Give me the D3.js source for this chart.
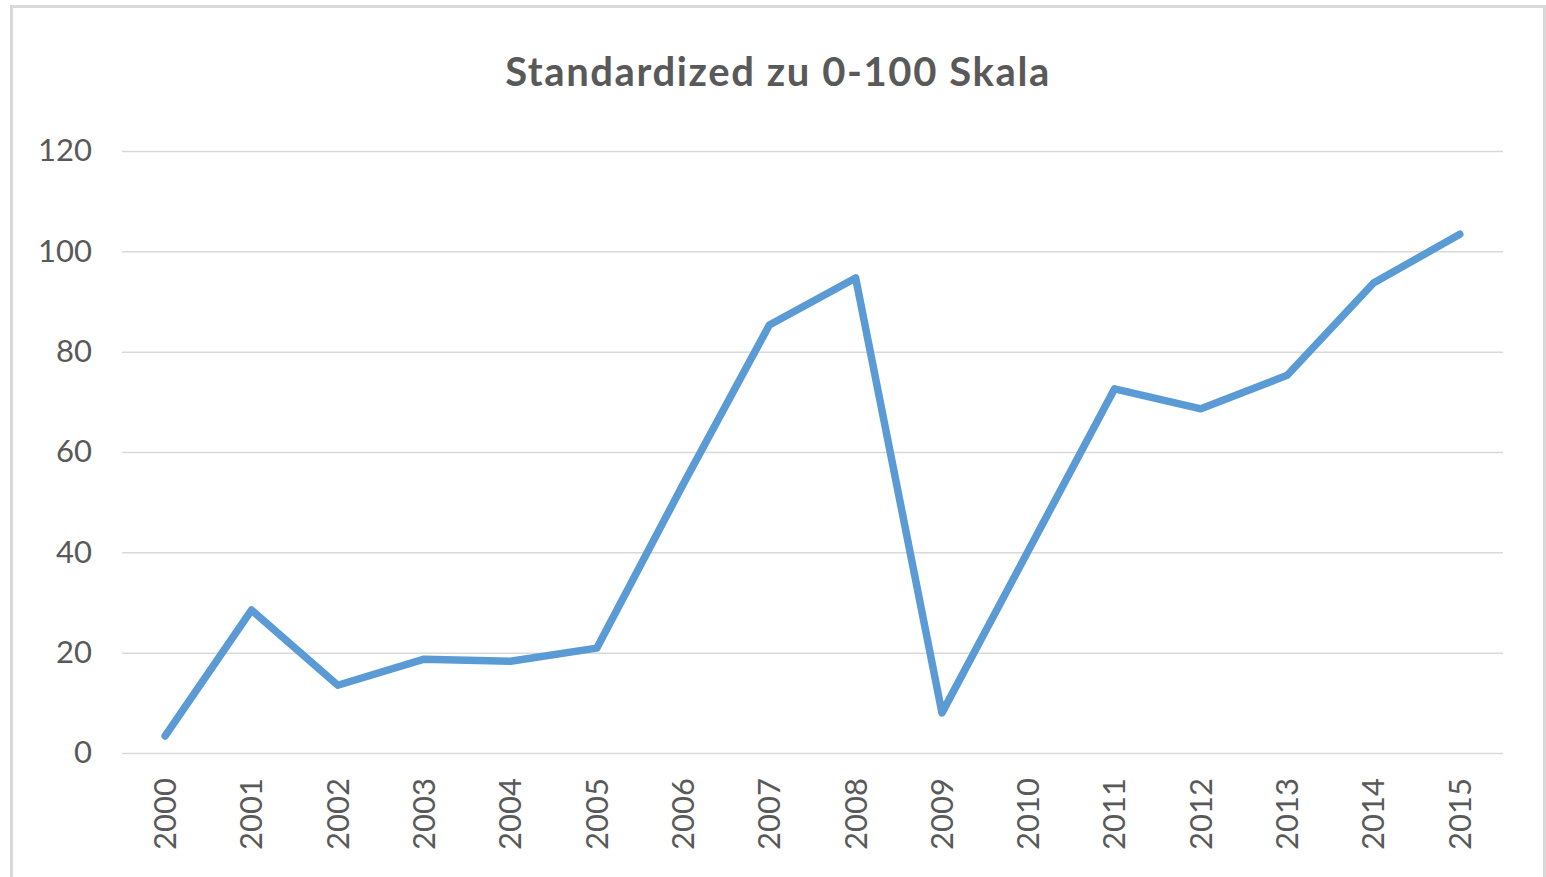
<!DOCTYPE html>
<html>
<head>
<meta charset="utf-8">
<script src="https://cdn.jsdelivr.net/npm/d3@7"></script>
<style>
  body { margin: 0; background: #fff; }
  svg { display: block; }
</style>
</head>
<body>
<div id="chart"></div>
<script>
// data
const years = ["2000","2001","2002","2003","2004","2005","2006","2007","2008","2009","2010","2011","2012","2013","2014","2015"];
const values = [3.4, 28.5, 13.5, 18.7, 18.3, 20.9, 53.5, 85.3, 94.7, 8.0, 40.3, 72.6, 68.6, 75.3, 93.7, 103.4];
const yTicks = [0, 20, 40, 60, 80, 100, 120];

const W = 1546, H = 877;
const margin = {top:151, right:43, bottom:124, left:122};
const width = W - margin.left - margin.right;
const height = H - margin.top - margin.bottom;

const svg = d3.select("#chart").append("svg")
    .attr("width", W)
    .attr("height", H);

// outer frame of the chart
svg.append("rect")
    .attr("x", 11.5)
    .attr("y", 6.5)
    .attr("width", 1533)
    .attr("height", 880)
    .attr("fill", "#fff")
    .attr("stroke", "#d9d9d9")
    .attr("stroke-width", 3);

svg.append("text")
    .attr("x", 778)
    .attr("y", 86)
    .attr("text-anchor", "middle")
    .attr("font-family", "Lato, 'Open Sans', sans-serif")
    .attr("font-weight", "bold")
    .attr("font-size", 40)
    .attr("letter-spacing", 1.6)
    .attr("fill", "#595959")
    .text("Standardized zu 0-100 Skala");

const chart = svg.append("g")
    .attr("transform", "translate(" + margin.left + "," + margin.top + ")");

const x = d3.scaleBand()
    .domain(years)
    .range([0, width]);

const y = d3.scaleLinear()
    .domain([0, 120])
    .range([height, 0]);

// gridlines
chart.append("g")
    .call(d3.axisLeft(y).tickValues(yTicks).tickSize(-width).tickFormat(""))
    .call(g => g.select(".domain").remove())
    .call(g => g.selectAll("line").attr("stroke", "#d9d9d9").attr("stroke-width", 1.5));

// y labels
chart.append("g")
    .call(d3.axisLeft(y).tickValues(yTicks).tickSize(0).tickPadding(30))
    .call(g => g.select(".domain").remove())
    .call(g => g.selectAll("text")
        .attr("font-family", "Lato, 'Open Sans', sans-serif")
        .attr("font-size", 31)
        .attr("fill", "#595959"));

// x labels rotated
chart.append("g")
    .attr("transform", "translate(0," + height + ")")
    .call(d3.axisBottom(x).tickSize(0))
    .call(g => g.select(".domain").remove())
    .call(g => g.selectAll("text")
        .attr("font-family", "Lato, 'Open Sans', sans-serif")
        .attr("font-size", 31)
        .attr("fill", "#595959")
        .attr("text-anchor", "end")
        .attr("transform", "rotate(-90)")
        .attr("x", -25)
        .attr("y", 0)
        .attr("dy", "0.35em"));

const line = d3.line()
    .x((d, i) => x(years[i]) + x.bandwidth() / 2)
    .y(d => y(d));

chart.append("path")
    .datum(values)
    .attr("fill", "none")
    .attr("stroke", "#5b9bd5")
    .attr("stroke-width", 7.5)
    .attr("stroke-linejoin", "round")
    .attr("stroke-linecap", "round")
    .attr("d", line);
</script>
</body>
</html>
